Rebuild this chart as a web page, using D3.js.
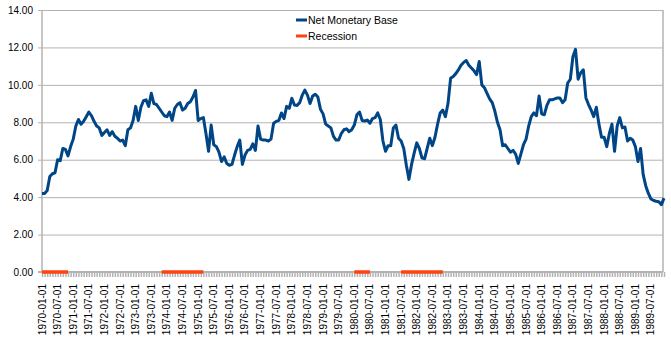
<!DOCTYPE html>
<html>
<head>
<meta charset="utf-8">
<script src="https://cdn.jsdelivr.net/npm/d3@7"></script>
<style>
  body { margin: 0; background: #fff; }
  text { font-family: "Liberation Sans", Arial, sans-serif; }
</style>
</head>
<body>
<div id="chart"></div>
<script>
// monthly categories 1970-01 .. 1989-12
var months = d3.timeMonth.range(new Date(1970, 0, 1), new Date(1990, 0, 1));

// Net Monetary Base, one value per month
var base1970s = [
    4.2, 4.2, 4.35, 5.1, 5.25, 5.3, 6.0, 5.95, 6.6, 6.55, 6.2, 6.7,
    7.1, 7.8, 8.15, 7.9, 8.05, 8.3, 8.55, 8.35, 8.05, 7.8, 7.7, 7.3,
    7.45, 7.6, 7.3, 7.5, 7.25, 7.15, 7.0, 7.05, 6.75, 7.6, 7.7, 8.1,
    8.85, 8.1, 8.8, 9.15, 9.2, 8.85, 9.55, 9.0, 8.95, 8.75, 8.55, 8.35,
    8.3, 8.55, 8.1, 8.75, 8.95, 9.05, 8.65, 8.75, 9.0, 9.1, 9.35, 9.7,
    8.1, 8.2, 8.25, 7.4, 6.45, 7.85, 6.8, 6.7, 6.4, 5.9, 6.15, 5.8,
    5.7, 5.75, 6.25, 6.7, 7.05, 5.75, 6.25, 6.5, 6.55, 6.85, 6.5, 7.8,
    7.1, 7.05, 7.05, 7.0, 7.1, 7.95, 8.05, 8.1, 8.5, 8.2, 8.85, 8.75,
    9.28, 8.92, 8.9, 9.05, 9.45, 9.72, 9.45, 9.0, 9.4, 9.5, 9.35, 8.7,
    8.45, 7.9, 7.8, 7.7, 7.25, 7.05, 7.05, 7.4, 7.6, 7.65, 7.5, 7.6
];
var base1980s = [
    7.85, 8.4, 8.55, 8.1, 8.07, 8.12, 7.95, 8.2, 8.25, 8.5, 8.15, 7.0,
    6.45, 6.75, 6.75, 7.7, 7.85, 7.15, 7.0, 6.6, 5.7, 4.95, 5.75, 6.35,
    6.9, 6.6, 6.1, 6.05, 6.6, 7.15, 6.75, 7.2, 7.9, 8.5, 8.65, 8.3,
    9.0, 10.35, 10.45, 10.6, 10.8, 11.05, 11.2, 11.3, 11.05, 10.9, 10.75, 10.55,
    11.25, 10.0, 9.85, 9.55, 9.25, 9.05, 8.6, 8.0, 7.6, 6.75, 6.8, 6.6,
    6.4, 6.5, 6.3, 5.8, 6.3, 6.8, 7.1, 7.8, 8.3, 8.5, 8.35, 9.4,
    8.45, 8.4, 8.9, 9.2, 9.2, 9.25, 9.3, 9.3, 9.05, 9.2, 10.1, 10.3,
    11.5, 11.9, 10.3, 10.65, 10.8, 9.3, 8.95, 8.65, 8.3, 8.8, 7.9, 7.2,
    7.2, 6.7, 7.4, 7.9, 6.45, 7.8, 8.25, 7.7, 7.75, 7.0, 7.15, 7.05,
    6.7, 5.9, 6.6, 5.2, 4.6, 4.2, 3.9, 3.82, 3.78, 3.75, 3.6, 3.95
];
var netBase = base1970s.concat(base1980s);

// recession periods (first and last month, value 0)
var recessionStart = ["1970-01", "1973-11", "1980-01", "1981-07"];
var recessionEnd   = ["1970-11", "1975-03", "1980-07", "1982-11"];

var yTicks = [0, 2, 4, 6, 8, 10, 12, 14];

function init() {
    var w = 671;
    var h = 353;
    var left = 42, right = 663, top = 10, bottom = 272;

    var fmtKey = d3.timeFormat("%Y-%m");
    var fmtLabel = d3.timeFormat("%Y-%m-%d");
    var keys = months.map(fmtKey);

    var x = d3.scalePoint()
              .domain(keys)
              .range([left, right + 1]);

    var y = d3.scaleLinear()
              .domain([0, 14])
              .range([bottom, top]);

    var svg = d3.select("#chart")
                .append("svg")
                .attr("width", w)
                .attr("height", h);

    // gridlines + y axis
    var yAxis = d3.axisLeft(y)
                  .tickValues(yTicks)
                  .tickFormat(d3.format(".2f"))
                  .tickSize(-(right - left) - 4)
                  .tickPadding(5);

    var gy = svg.append("g")
                .attr("transform", "translate(" + (left - 4) + ",0)")
                .call(yAxis);
    gy.select(".domain").remove();
    gy.selectAll(".tick line")
      .attr("x1", 0)
      .attr("x2", right - left + 4)
      .attr("stroke", "#b3b3b3");
    gy.selectAll(".tick text")
      .attr("x", -5)
      .attr("font-size", 10)
      .attr("fill", "#000");

    // frame: left axis and right edge
    svg.append("line")
       .attr("x1", left).attr("x2", left)
       .attr("y1", top).attr("y2", bottom)
       .attr("stroke", "#b3b3b3").attr("stroke-width", 1.5);
    svg.append("line")
       .attr("x1", right).attr("x2", right)
       .attr("y1", top).attr("y2", bottom)
       .attr("stroke", "#b3b3b3").attr("stroke-width", 1.5);

    // x axis: month ticks, labels every 6 months
    var xAxis = d3.axisBottom(x)
                  .tickSize(5)
                  .tickFormat("");
    var gx = svg.append("g")
                .attr("transform", "translate(0," + bottom + ")")
                .call(xAxis);
    gx.select(".domain").remove();
    gx.selectAll(".tick line")
      .attr("stroke", "#b3b3b3")
      .attr("stroke-width", 1.5);
    svg.append("line")
       .attr("x1", left - 4).attr("x2", right)
       .attr("y1", bottom).attr("y2", bottom)
       .attr("stroke", "#b3b3b3").attr("stroke-width", 2);

    var labelMonths = months.filter(function(d) { return d.getMonth() % 6 === 0; });
    svg.append("g")
       .selectAll("text")
       .data(labelMonths)
       .enter()
       .append("text")
       .attr("transform", function(d) {
           return "translate(" + x(fmtKey(d)) + "," + (bottom + 12) + ") rotate(-90)";
       })
       .attr("text-anchor", "end")
       .attr("dominant-baseline", "central")
       .attr("font-size", 10)
       .attr("fill", "#000")
       .text(function(d) { return fmtLabel(d); });

    // recession marks at zero
    var recLine = d3.line()
                    .x(function(d) { return x(d); })
                    .y(function() { return y(0); });
    recessionStart.forEach(function(s, i) {
        var seg = keys.filter(function(k) { return k >= s && k <= recessionEnd[i]; });
        svg.append("path")
           .attr("d", recLine(seg))
           .attr("fill", "none")
           .attr("stroke", "#ff420e")
           .attr("stroke-width", 3.5);
    });

    // net monetary base line
    var line = d3.line()
                 .x(function(d, i) { return x(keys[i]); })
                 .y(function(d) { return y(d); });
    svg.append("path")
       .attr("d", line(netBase))
       .attr("fill", "none")
       .attr("stroke", "#004586")
       .attr("stroke-width", 3)
       .attr("stroke-linejoin", "round");

    // legend
    var legend = [["Net Monetary Base", "#004586"], ["Recession", "#ff420e"]];
    var lg = svg.selectAll("g.legend")
                .data(legend)
                .enter()
                .append("g")
                .attr("class", "legend")
                .attr("transform", function(d, i) {
                    return "translate(296," + (20 + i * 16) + ")";
                });
    lg.append("line")
      .attr("x1", 0).attr("x2", 11)
      .attr("stroke", function(d) { return d[1]; })
      .attr("stroke-width", 3);
    lg.append("text")
      .attr("x", 12)
      .attr("y", 4)
      .attr("font-size", 10.5)
      .attr("fill", "#000")
      .text(function(d) { return d[0]; });
}

window.onload = init;
</script>
</body>
</html>
